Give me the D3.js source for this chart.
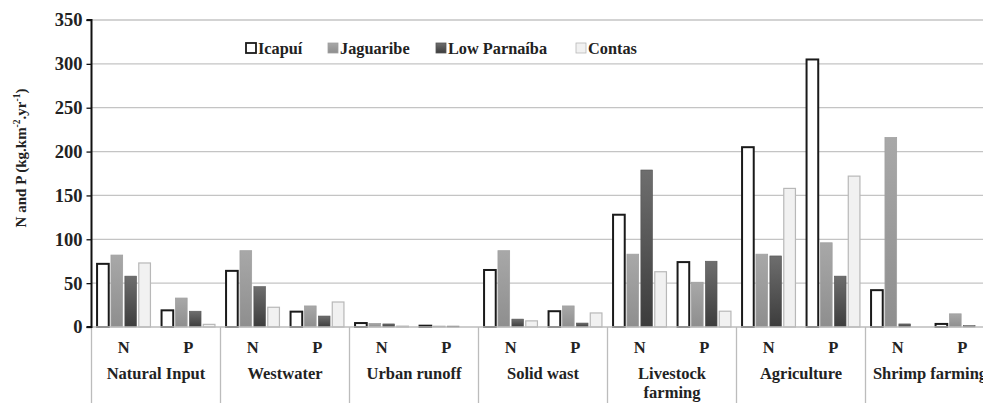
<!DOCTYPE html>
<html>
<head>
<meta charset="utf-8">
<script src="https://cdn.jsdelivr.net/npm/d3@7"></script>
<style>
  html, body { margin: 0; padding: 0; background: #fff; }
  svg { display: block; }
  text { font-family: "Liberation Serif", "Times New Roman", serif; font-weight: bold; fill: #222; }
</style>
</head>
<body>
<svg id="chart" width="983" height="403"></svg>
<script>
// Sources of N and P loads, one N and one P band per source
const sources = ["Natural Input", "Westwater", "Urban runoff", "Solid wast", "Livestock farming", "Agriculture", "Shrimp farming"];
const nutrients = ["N", "P"];
const series = ["Icapuí", "Jaguaribe", "Low Parnaíba", "Contas"];

// values per source: [N, P]
const icapui      = [[72, 19], [64, 17.5], [4.5, 1.5], [65, 18], [128, 74], [205, 305], [42, 3.5]];
const jaguaribe   = [[82, 33], [87, 24], [4, 1], [87, 24], [83, 51], [83, 96], [216, 15]];
const lowParnaiba = [[58, 18], [46, 12.5], [3.5, 1], [9, 4.5], [179, 75], [81, 58], [3.5, 1.5]];
const contas      = [[73, 3], [22.5, 28.5], [1, 0], [7, 16], [63, 18], [158, 172], [0, 0]];

const yTicks = [0, 50, 100, 150, 200, 250, 300, 350];

const svg = d3.select("#chart");
const plotLeft = 91.5, plotTop = 20, plotBottom = 327;
const groupW = 129;
const plotRight = plotLeft + groupW * sources.length;

const y = d3.scaleLinear().domain([0, 350]).range([plotBottom, plotTop]);
const xGroup = d3.scaleBand().domain(sources).range([plotLeft, plotRight]).padding(0);
const xNut = d3.scaleBand().domain(nutrients).range([0, groupW]).padding(0);
const xSeries = d3.scaleBand().domain(series).range([0, xNut.bandwidth()]).paddingInner(0.16).paddingOuter(0.4);

// gradients for the two grey series
const defs = svg.append("defs");
function grad(id, c1, c2) {
  const g = defs.append("linearGradient").attr("id", id).attr("x1", 0).attr("y1", 0).attr("x2", 0).attr("y2", 1);
  g.append("stop").attr("offset", "0%").attr("stop-color", c1);
  g.append("stop").attr("offset", "100%").attr("stop-color", c2);
}
grad("gJag", "#a8a8a8", "#8e8e8e");
grad("gLow", "#6e6e6e", "#3c3c3c");

const styles = {
  "Icapuí":       { fill: "#ffffff", stroke: "#1a1a1a", sw: 2 },
  "Jaguaribe":    { fill: "url(#gJag)", stroke: "#a0a0a0", sw: 0.8 },
  "Low Parnaíba": { fill: "url(#gLow)", stroke: "#555", sw: 0.6 },
  "Contas":       { fill: "#f1f1f1", stroke: "#b8b8b8", sw: 1.2 }
};

// horizontal gridlines
svg.append("g").selectAll("line").data(yTicks.filter(d => d > 0)).join("line")
  .attr("x1", plotLeft).attr("x2", 983)
  .attr("y1", d => y(d)).attr("y2", d => y(d))
  .attr("stroke", "#c4c4c4").attr("stroke-width", 1.3);

// bars
const dataBySeries = [icapui, jaguaribe, lowParnaiba, contas];
const bars = [];
sources.forEach((s, i) => {
  nutrients.forEach((n, j) => {
    series.forEach((ser, k) => {
      bars.push({ source: s, nut: n, series: ser, value: dataBySeries[k][i][j] });
    });
  });
});
svg.append("g").selectAll("rect").data(bars.filter(d => d.value > 0)).join("rect")
  .attr("x", d => xGroup(d.source) + xNut(d.nut) + xSeries(d.series))
  .attr("width", xSeries.bandwidth())
  .attr("y", d => y(d.value))
  .attr("height", d => y(0) - y(d.value))
  .attr("fill", d => styles[d.series].fill)
  .attr("stroke", d => styles[d.series].stroke)
  .attr("stroke-width", d => styles[d.series].sw);

// x axis baseline and category dividers
svg.append("line").attr("x1", plotLeft).attr("x2", 983).attr("y1", plotBottom).attr("y2", plotBottom)
  .attr("stroke", "#bcbcbc").attr("stroke-width", 1.3);
svg.append("g").selectAll("line").data(sources.slice(1)).join("line")
  .attr("x1", d => xGroup(d)).attr("x2", d => xGroup(d))
  .attr("y1", plotBottom).attr("y2", 403)
  .attr("stroke", "#bcbcbc").attr("stroke-width", 1.3);
svg.append("line").attr("x1", plotLeft).attr("x2", plotLeft).attr("y1", plotBottom).attr("y2", 403)
  .attr("stroke", "#bcbcbc").attr("stroke-width", 1.3);

// y axis
const yAxis = d3.axisLeft(y).tickValues(yTicks).tickSize(5).tickPadding(4);
const ya = svg.append("g").attr("transform", `translate(${plotLeft},0)`).call(yAxis);
ya.select(".domain").attr("stroke", "#111").attr("stroke-width", 2).attr("d", `M-5,${plotTop}H0V${plotBottom}H-5`);
ya.selectAll(".tick line").attr("stroke", "#111").attr("stroke-width", 1.3);
ya.selectAll(".tick text").attr("font-size", 18.5).attr("font-family", "Liberation Serif, serif")
  .attr("font-weight", "bold").attr("fill", "#222");

// y title
const yt = svg.append("text").attr("transform", "translate(26,158) rotate(-90)")
  .attr("text-anchor", "middle").attr("font-size", 15);
yt.append("tspan").text("N and P (kg.km");
yt.append("tspan").attr("font-size", 9.5).attr("dy", -6).text("-2");
yt.append("tspan").attr("dy", 6).text(".yr");
yt.append("tspan").attr("font-size", 9.5).attr("dy", -6).text("-1");
yt.append("tspan").attr("dy", 6).text(")");

// N / P labels
const nutLabels = [];
sources.forEach(s => nutrients.forEach(n => nutLabels.push({ s, n })));
svg.append("g").selectAll("text").data(nutLabels).join("text")
  .attr("x", d => xGroup(d.s) + xNut(d.n) + xNut.bandwidth() / 2)
  .attr("y", 353).attr("text-anchor", "middle").attr("font-size", 16.5)
  .text(d => d.n);

// source labels (wrap "Livestock farming")
const srcG = svg.append("g");
sources.forEach(s => {
  const cx = xGroup(s) + groupW / 2;
  const lines = s === "Livestock farming" ? ["Livestock", "farming"] : [s];
  lines.forEach((l, i) => {
    srcG.append("text").attr("x", cx).attr("y", 379 + i * 19)
      .attr("text-anchor", "middle").attr("font-size", 16.5).text(l);
  });
});

// legend
const legendX = [246, 328, 436, 576];
const lg = svg.append("g");
series.forEach((ser, i) => {
  const st = styles[ser];
  lg.append("rect").attr("x", legendX[i]).attr("y", 43).attr("width", 10).attr("height", 10)
    .attr("fill", st.fill).attr("stroke", st.stroke).attr("stroke-width", ser === "Icapuí" ? 1.8 : 0.8);
  lg.append("text").attr("x", legendX[i] + 12).attr("y", 54).attr("font-size", 16.3).text(ser);
});
</script>
</body>
</html>
